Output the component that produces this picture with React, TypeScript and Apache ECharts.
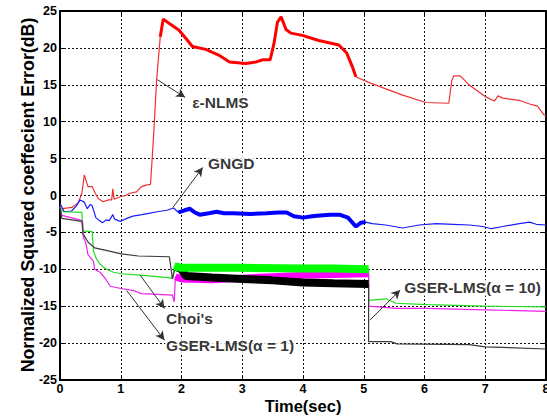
import { useEffect, useRef } from 'react';
import * as echarts from 'echarts';

type P = [number, number];

const xMin = 0, xMax = 8, xStep = 1;
const yMin = -25, yMax = 25, yStep = 5;

// ε-NLMS (red)
const nlms: P[] = [
  [0, -1.8], [0.2, -1.6], [0.3, -1.0], [0.36, 0.3], [0.4, 2.8], [0.46, 1.2], [0.53, 1.2],
  [0.58, 0.3], [0.63, -0.4], [0.71, -0.85], [0.8, -0.6], [0.85, -0.6], [0.87, 0.9], [0.89, -0.5],
  [0.98, -0.2], [1.08, 0.0], [1.15, 0.3], [1.26, 0.5], [1.34, 1.2], [1.42, 1.4], [1.49, 1.5],
  [1.54, 8], [1.59, 15.6], [1.65, 21.5], [1.70, 23.9], [1.80, 23.3], [1.96, 22.4], [2.07, 21.3],
  [2.18, 20.2], [2.40, 19.8], [2.62, 19.0], [2.79, 18.1], [3.06, 17.9], [3.23, 18.1], [3.34, 18.4],
  [3.46, 18.4], [3.52, 20.5], [3.58, 23.5], [3.64, 24.2], [3.72, 22.5], [3.80, 22.0], [3.99, 21.7],
  [4.26, 21.0], [4.59, 20.4], [4.72, 19.3], [4.81, 17.5], [4.87, 16.1], [5.09, 15.3], [5.64, 13.6],
  [6.02, 12.6], [6.40, 12.5], [6.45, 15.6], [6.48, 16.2], [6.59, 16.2], [6.73, 15.0], [7.0, 13.4],
  [7.15, 12.8], [7.21, 13.5], [7.29, 13.2], [7.56, 12.9], [7.73, 12.4], [7.86, 12.1], [7.97, 10.9],
  [8, 10.8],
];

// GNGD (blue)
const gngd: P[] = [
  [0, -1.1], [0.07, -2.2], [0.19, -2.1], [0.27, -1.4], [0.33, -0.6], [0.4, -0.9], [0.45, -1.8],
  [0.5, -1.2], [0.53, -1.4], [0.59, -3.0], [0.65, -3.4], [0.70, -3.7], [0.76, -3.3], [0.81, -3.4],
  [0.87, -2.6], [0.9, -3.2], [0.96, -3.4], [1.0, -3.5], [1.1, -3.1], [1.2, -2.8], [1.35, -2.6],
  [1.48, -2.4], [1.6, -2.2], [1.76, -2.0], [1.87, -1.7], [1.95, -2.3], [2.05, -2.0], [2.14, -1.8],
  [2.22, -2.3], [2.3, -2.6], [2.45, -2.4], [2.58, -2.2], [2.7, -2.4], [2.85, -2.4], [3.13, -2.5],
  [3.4, -2.4], [3.6, -2.3], [3.73, -2.3], [3.85, -2.8], [4.0, -3.0], [4.15, -2.8], [4.28, -2.7],
  [4.45, -2.6], [4.6, -2.6], [4.74, -3.0], [4.87, -4.2], [4.95, -3.7], [5.03, -3.6], [5.14, -3.8],
  [5.36, -4.0], [5.64, -4.4], [5.91, -4.0], [6.19, -3.8], [6.47, -3.9], [6.74, -4.0], [6.96, -4.2],
  [7.1, -4.5], [7.29, -4.2], [7.56, -3.8], [7.73, -3.6], [7.84, -3.9], [8.0, -4.0],
];

// Choi's (green)
const choiPre: P[] = [
  [0, -1.5], [0.05, -2.2], [0.36, -2.3], [0.38, -4.8], [0.53, -4.9], [0.55, -7.5], [0.6, -8.6],
  [0.66, -9.3], [0.74, -9.9], [0.88, -10.4], [1.0, -10.6], [1.32, -10.8], [1.6, -11.0], [1.86, -11.2],
];
const choiBand: P[] = [[1.88, -9.6], [2.0, -9.8], [3.0, -9.8], [4.0, -9.9], [4.5, -9.9], [5.08, -10.0]];
const choiPost: P[] = [[5.08, -14.2], [5.37, -14.0], [5.53, -14.6], [6.05, -14.8], [6.98, -15.0], [8.0, -15.1]];

// GSER-LMS(α = 1) (magenta)
const gser1Pre: P[] = [
  [0, -1.5], [0.03, -2.7], [0.33, -3.3], [0.37, -3.5], [0.38, -5.5], [0.43, -6.6], [0.46, -8.0],
  [0.55, -8.9], [0.57, -10.0], [0.66, -10.4], [0.74, -11.2], [0.83, -12.3], [1.0, -12.6],
  [1.22, -12.9], [1.34, -13.3], [1.85, -13.5], [1.88, -14.4],
];
const gser1Band: P[] = [[1.9, -11.0], [2.0, -11.3], [2.5, -11.4], [3.0, -11.2], [3.5, -11.0], [4.0, -10.8], [4.5, -10.7], [5.08, -10.6]];
const gser1Post: P[] = [[5.08, -15.0], [5.53, -15.3], [6.05, -15.3], [7.0, -15.5], [8.0, -15.7]];

// GSER-LMS(α = 10) (black)
const gser10Pre: P[] = [
  [0, -1.6], [0.03, -3.1], [0.36, -3.5], [0.38, -5.2], [0.46, -6.3], [0.57, -7.1], [0.74, -7.4],
  [1.01, -7.9], [1.29, -8.2], [1.8, -8.3], [1.85, -11.3],
];
const gser10Band: P[] = [[1.9, -9.6], [2.0, -10.0], [2.07, -10.9], [2.5, -11.1], [3.0, -11.3], [3.5, -11.5], [4.0, -11.8], [4.5, -11.9], [5.08, -12.0]];
const gser10Post: P[] = [[5.08, -19.8], [5.44, -19.8], [5.55, -20.1], [6.74, -20.2], [7.0, -20.5], [8.0, -20.8]];

// annotations
const noteTexts = ['ε-NLMS', 'GNGD', "Choi's", 'GSER-LMS(α = 1)', 'GSER-LMS(α = 10)'];
const noteAt: P[] = [[2.16, 12.6], [2.42, 4.4], [1.73, -16.6], [1.73, -20.3], [5.65, -12.5]];
const arrowFrom: P[] = [[1.6, 15.7], [1.86, -1.6], [1.32, -10.8], [1.10, -12.9], [5.10, -16.9]];
const arrowTo: P[] = [[2.06, 13.3], [2.35, 3.8], [1.72, -15.3], [1.72, -19.6], [5.6, -12.8]];

const yTitle = 'Normalized Squared coeffecient Error(dB)';
const xTitle = 'Time(sec)';

const FONT = '"Liberation Sans", Arial, sans-serif';

const thin = (name: string, data: P[], color: string, width = 1.2, z = 2) => ({
  name, type: 'line', data, showSymbol: false, symbol: 'none', z,
  lineStyle: { color, width }, silent: true,
});

const gridLine = { show: true, lineStyle: { color: '#111', width: 1, type: [2, 2] } };
const tick = { show: true, inside: true, length: 4, lineStyle: { color: '#000', width: 1 } };
const axisLine = { show: true, onZero: false, lineStyle: { color: '#000', width: 2 } };
const tickFont = { fontFamily: FONT, fontWeight: 'bold', fontSize: 12.5, color: '#000' };

export default function App() {
  const ref = useRef<HTMLDivElement>(null);
  useEffect(() => {
    const chart = echarts.init(ref.current!, null, { renderer: 'svg' });
    const inRange = (a: number, b: number) => (p: P) => p[0] >= a && p[0] <= b;
    chart.setOption({
      animation: false,
      grid: { left: 60, right: 1, top: 11, bottom: 37, show: false, containLabel: false, outerBoundsMode: 'none' },
      graphic: [
        {
          type: 'text', x: 28, y: 195, rotation: Math.PI / 2, silent: true,
          style: {
            text: yTitle, fontFamily: FONT, fontWeight: 'bold', fontSize: 17.8, fill: '#000',
            textAlign: 'center', textVerticalAlign: 'middle',
          },
        },
        {
          type: 'text', x: 303, y: 405.5, silent: true,
          style: {
            text: xTitle, fontFamily: FONT, fontWeight: 'bold', fontSize: 16.5, fill: '#000',
            textAlign: 'center', textVerticalAlign: 'middle',
          },
        },
      ],
      xAxis: [
        {
          type: 'value', min: xMin, max: xMax, interval: xStep,
          axisLine, axisTick: tick,
          axisLabel: { ...tickFont, margin: 2 },
          splitLine: gridLine,
        },
        {
          type: 'value', min: xMin, max: xMax, interval: xStep, position: 'top',
          axisLine, axisTick: tick, axisLabel: { show: false }, splitLine: { show: false },
        },
      ],
      yAxis: [
        {
          type: 'value', min: yMin, max: yMax, interval: yStep,
          axisLine, axisTick: tick,
          axisLabel: { ...tickFont, margin: 3 },
          splitLine: gridLine,
        },
        {
          type: 'value', min: yMin, max: yMax, interval: yStep, position: 'right',
          axisLine, axisTick: tick, axisLabel: { show: false }, splitLine: { show: false },
        },
      ],
      series: [
        thin('ε-NLMS', nlms, '#f03030', 1.2),
        thin('ε-NLMS band', nlms.filter(inRange(1.62, 5.0)), '#ff0000', 3),
        thin('GNGD', gngd, '#1a1aff', 1.2),
        thin('GNGD band', gngd.filter(inRange(1.9, 5.1)), '#0000ff', 4),
        thin("Choi's", [...choiPre, ...choiBand, ...choiPost], '#22dd22', 1.2),
        thin('GSER-LMS(α = 1)', [...gser1Pre, ...gser1Band, ...gser1Post], '#ee22ee', 1.2),
        thin('GSER-LMS(α = 10)', [...gser10Pre, ...gser10Band, ...gser10Post], '#3a3a3a', 1.2),
        thin('GSER-LMS(α = 1) band', gser1Band, '#ff00ff', 7, 3),
        thin('GSER-LMS(α = 10) band', gser10Band, '#000000', 8, 3),
        thin("Choi's band", choiBand, '#00ff00', 8, 3),
        {
          name: 'notes', type: 'scatter', symbolSize: 0, z: 10, silent: true,
          data: noteAt.map((p, i) => ({ value: p, name: noteTexts[i] })),
          label: {
            show: true, position: 'right', distance: 0, formatter: (d: any) => d.name,
            fontFamily: FONT, fontWeight: 'bold', fontSize: 15.5, color: '#000',
            backgroundColor: '#fff', padding: [0, 1],
          },
          markLine: {
            silent: true, animation: false,
            symbol: ['none', 'arrow'], symbolSize: [7, 9],
            lineStyle: { color: '#333', width: 1, type: 'solid' },
            label: { show: false },
            data: arrowFrom.map((f, i) => [{ coord: f }, { coord: arrowTo[i] }]),
          },
        },
      ],
    });
    return () => chart.dispose();
  }, []);
  return <div ref={ref} style={{ position: 'fixed', left: 0, top: 0, width: 547, height: 417, background: '#fff' }} />;
}
